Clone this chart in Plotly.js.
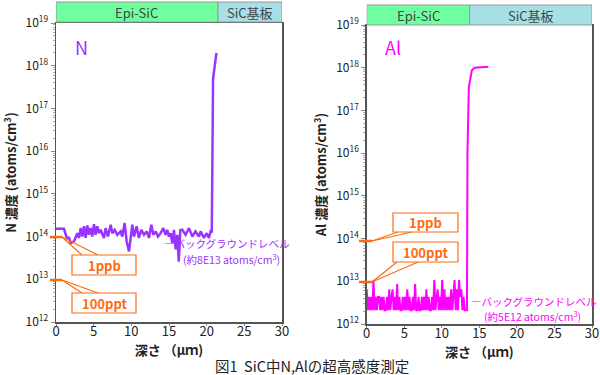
<!DOCTYPE html>
<html>
<head>
<meta charset="utf-8">
<script src="https://cdn.plot.ly/plotly-3.0.1.min.js"></script>
<style>html,body{margin:0;padding:0;background:#fff;}#chart{width:600px;height:375px;}</style>
</head>
<body>
<div id="chart"></div>
<script>
// ---- data ----
const nDepth = [0, 1.06, 1.41, 1.73, 1.95, 2.39, 2.83, 3.05, 3.27, 3.49, 3.72, 3.94, 4.16, 4.38, 4.60, 4.82, 5.04, 5.26, 5.48, 5.71, 5.93, 6.37, 6.59, 6.90, 7.26, 7.48, 7.79, 8.14, 8.58, 8.80, 9.11, 9.38, 9.69, 9.91, 10.13, 10.35, 10.70, 11.00, 11.33, 11.68, 12.03, 12.34, 12.65, 12.92, 13.23, 13.54, 13.89, 14.25, 14.55, 14.77, 15.00, 15.22, 15.44, 15.66, 15.88, 16.10, 16.30, 16.50, 16.76, 17.20, 17.65, 18.10, 18.50, 18.98, 19.20, 19.64, 20.00, 20.30, 20.52, 20.68, 20.75, 20.85, 21.30];
const nConc = [1.52e14, 1.52e14, 9.6e13, 9.3e13, 7.0e13, 7.7e13, 1.2e14, 9.3e13, 1.58e14, 1.0e14, 1.74e14, 9.3e13, 1.83e14, 1.1e14, 1.58e14, 1.0e14, 1.96e14, 1.1e14, 1.74e14, 1.2e14, 1.44e14, 9.3e13, 1.58e14, 1.0e14, 1.9e14, 1.2e14, 1.44e14, 1.1e14, 1.32e14, 1.0e14, 2.07e14, 7.7e13, 4.5e13, 1.1e14, 1.9e14, 1.0e14, 1.74e14, 9.3e13, 1.44e14, 1.1e14, 1.32e14, 9.3e13, 1.9e14, 1.1e14, 1.32e14, 1.0e14, 1.2e14, 1.58e14, 1.1e14, 1.44e14, 1.0e14, 1.2e14, 7.0e13, 1.44e14, 5.0e13, 1.1e14, 2.6e13, 1.4e14, 1.44e14, 1.1e14, 1.58e14, 1.0e14, 1.32e14, 1.0e14, 1.32e14, 9.3e13, 1.2e14, 9.3e13, 1.32e14, 1.25e14, 1.0e16, 5.0e17, 2.0e18];

const alDepth = [0.00, 0.15, 0.30, 0.45, 0.60, 0.75, 0.90, 1.05, 1.20, 1.35, 1.50, 1.65, 1.80, 1.95, 2.10, 2.25, 2.40, 2.55, 2.70, 2.85, 3.00, 3.15, 3.30, 3.45, 3.60, 3.75, 3.90, 4.05, 4.20, 4.35, 4.50, 4.65, 4.80, 4.95, 5.10, 5.25, 5.40, 5.55, 5.70, 5.85, 6.00, 6.15, 6.30, 6.45, 6.60, 6.75, 6.90, 7.05, 7.20, 7.35, 7.50, 7.65, 7.80, 7.95, 8.10, 8.25, 8.40, 8.55, 8.70, 8.85, 9.00, 9.15, 9.30, 9.45, 9.60, 9.75, 9.90, 10.05, 10.20, 10.35, 10.50, 10.65, 10.80, 10.95, 11.10, 11.25, 11.40, 11.55, 11.70, 11.85, 12.00, 12.15, 12.30, 12.45, 12.60, 12.75, 12.90, 13.05, 13.20, 13.35, 13.42, 13.50, 13.60, 13.85, 14.00, 14.40, 15.30, 16.20];
const alConc = [6.5e12, 2.1e12, 4.3e12, 2.1e12, 4.3e12, 2.1e12, 1.07e13, 2.1e12, 4.3e12, 2.1e12, 4.3e12, 4.3e12, 2.1e12, 4.3e12, 2.1e12, 4.3e12, 2.1e12, 2.1e12, 4.3e12, 2.1e12, 6.5e12, 2.1e12, 4.3e12, 6.5e12, 2.1e12, 4.3e12, 2.1e12, 8.6e12, 2.1e12, 4.3e12, 2.1e12, 2.1e12, 4.3e12, 2.1e12, 4.3e12, 2.1e12, 6.5e12, 2.1e12, 4.3e12, 2.1e12, 2.1e12, 4.3e12, 2.1e12, 8.6e12, 2.1e12, 2.1e12, 4.3e12, 2.1e12, 2.1e12, 4.3e12, 2.1e12, 4.3e12, 2.1e12, 6.5e12, 2.1e12, 4.3e12, 2.1e12, 2.1e12, 4.3e12, 2.1e12, 1.07e13, 2.1e12, 4.3e12, 6.5e12, 2.1e12, 4.3e12, 2.1e12, 1.07e13, 2.1e12, 6.5e12, 2.1e12, 4.3e12, 2.1e12, 4.3e12, 2.1e12, 6.5e12, 2.1e12, 4.3e12, 1.07e13, 2.1e12, 6.5e12, 2.1e12, 1.07e13, 4.3e12, 6.5e12, 2.1e12, 4.3e12, 2.1e12, 2.1e12, 2.1e12, 1.0e16, 1.5e17, 3.5e17, 6.2e17, 8.7e17, 1.0e18, 1.03e18, 1.05e18];

const yTickVals = [1e12, 1e13, 1e14, 1e15, 1e16, 1e17, 1e18, 1e19];
const yTickText = ['10<sup>12</sup>', '10<sup>13</sup>', '10<sup>14</sup>', '10<sup>15</sup>', '10<sup>16</sup>', '10<sup>17</sup>', '10<sup>18</sup>', '10<sup>19</sup>'];
const xTickVals = [0, 5, 10, 15, 20, 25, 30];

const layerNames = ['Epi-SiC', 'SiC基板'];
const nLayerBounds = [0, 21.5, 30];
const alLayerBounds = [0, 13.7, 30];

// ---- styling ----
const FONT = '"Noto Sans CJK JP", "Noto Sans", sans-serif';
const nColor = '#9933FF';
const alColor = '#FF00FF';
const orange = '#FF6A10';
const layerFill = ['#6FFFA0', '#A6E0E6'];

const minorVals = [];
for (let e = 12; e < 19; e++) for (let m = 2; m <= 9; m++) minorVals.push(m * Math.pow(10, e));

const px = x => x / 600;
const py = y => 1 - y / 375;

function yAxis(domain, anchor) {
  return {
    type: 'log', range: [12, 19], domain: domain, anchor: anchor,
    tickvals: yTickVals, ticktext: yTickText,
    ticks: 'outside', ticklen: 4, tickcolor: '#888',
    minor: {tickvals: minorVals, ticks: 'outside', ticklen: 2, tickcolor: '#aaa'},
    showline: true, mirror: true, linecolor: '#555', linewidth: 1.5,
    showgrid: false, zeroline: false,
    tickfont: {family: FONT, size: 12, color: '#222'}
  };
}
function xAxis(domain, anchor) {
  return {
    range: [0, 30], domain: domain, anchor: anchor,
    tickvals: xTickVals, ticks: 'outside', ticklen: 2, tickcolor: '#888',
    ticklabelstandoff: -5,
    showline: true, mirror: true, linecolor: '#555', linewidth: 1.5,
    showgrid: false, zeroline: false,
    tickfont: {family: FONT, size: 13, color: '#222'},
    title: {text: '<b>深さ （μｍ)</b>', font: {family: FONT, size: 13, color: '#222'}, standoff: 0}
  };
}

const traces = [
  {x: nDepth, y: nConc, xaxis: 'x', yaxis: 'y', mode: 'lines', line: {color: nColor, width: 2.5}, hoverinfo: 'skip'},
  {x: alDepth, y: alConc, xaxis: 'x2', yaxis: 'y2', mode: 'lines', line: {color: alColor, width: 2}, hoverinfo: 'skip'}
];

const shapes = [];
const annotations = [];

function layerBar(xref, bounds, y0, y1) {
  for (let i = 0; i < layerNames.length; i++) {
    shapes.push({type: 'rect', xref: xref, yref: 'paper', x0: bounds[i], x1: bounds[i + 1], y0: py(y1), y1: py(y0),
      fillcolor: layerFill[i], line: {color: '#999', width: 1}, layer: 'above'});
    annotations.push({xref: xref, yref: 'paper', x: (bounds[i] + bounds[i + 1]) / 2, y: py((y0 + y1) / 2),
      text: layerNames[i], showarrow: false, xanchor: 'center', yanchor: 'middle',
      font: {family: FONT, size: 13, color: '#444'}});
  }
}
layerBar('x', nLayerBounds, 2, 22);
layerBar('x2', alLayerBounds, 5, 25);

function line(x0, y0, x1, y1, w) {
  shapes.push({type: 'line', xref: 'paper', yref: 'paper', x0: px(x0), y0: py(y0), x1: px(x1), y1: py(y1),
    line: {color: orange, width: w || 1.2}, layer: 'above'});
}
function box(x0, y0, x1, y1, label) {
  shapes.push({type: 'rect', xref: 'paper', yref: 'paper', x0: px(x0), y0: py(y1), x1: px(x1), y1: py(y0),
    fillcolor: '#fff', line: {color: orange, width: 1.2}, layer: 'above'});
  annotations.push({xref: 'paper', yref: 'paper', x: px((x0 + x1) / 2), y: py((y0 + y1) / 2), text: '<b>' + label + '</b>',
    showarrow: false, xanchor: 'center', yanchor: 'middle', font: {family: FONT, size: 13, color: orange}});
}
// left callouts
line(50, 237, 62, 237, 2.5); line(62, 237, 98, 255); line(62, 237, 82, 255);
box(72, 255, 136, 275, '1ppb');
line(50, 280, 62, 280, 2.5); line(62, 280, 98, 293); line(62, 280, 82, 293);
box(72, 293, 136, 313, '100ppt');
// right callouts
line(359, 241, 372, 241, 2.5); line(372, 241, 398, 232); line(372, 241, 412, 232);
box(393, 213, 458, 232, '1ppb');
line(359, 282, 372, 282, 2.5); line(372, 282, 397, 262); line(372, 282, 418, 262);
box(393, 242, 458, 262, '100ppt');

function note(x, y, text, color, size, anchor) {
  annotations.push({xref: 'paper', yref: 'paper', x: px(x), y: py(y), text: text, showarrow: false,
    xanchor: anchor || 'left', yanchor: 'middle', font: {family: FONT, size: size, color: color}});
}
note(73, 47, 'N', nColor, 18);
note(383, 47, 'Al', alColor, 18);
note(162, 243, '―バックグラウンドレベル', nColor, 10.5);
note(181, 259, '(約8E13 atoms/cm<sup>3</sup>)', nColor, 10.5);
note(469, 301, '―バックグラウンドレベル', alColor, 10.5);
note(482, 316, '(約5E12 atoms/cm<sup>3</sup>)', alColor, 10.5);
note(312, 365, '図1  SiC中N,Alの超高感度測定', '#222', 14.5, 'center');

const yl = yAxis([py(322), py(23)], 'x');
yl.title = {text: '<b>N 濃度 (atoms/cm<sup>3</sup>)</b>', font: {family: FONT, size: 13, color: '#222'}, standoff: 6};
const yr = yAxis([py(324), py(25)], 'x2');
yr.title = {text: '<b>Al 濃度 (atoms/cm<sup>3</sup>)</b>', font: {family: FONT, size: 13, color: '#222'}, standoff: 6};

const layout = {
  width: 600, height: 375,
  margin: {l: 0, r: 0, t: 0, b: 0},
  paper_bgcolor: '#fff', plot_bgcolor: '#fff',
  showlegend: false,
  font: {family: FONT},
  xaxis: xAxis([px(56), px(282)], 'y'),
  yaxis: yl,
  xaxis2: xAxis([px(366.7), px(592)], 'y2'),
  yaxis2: yr,
  shapes: shapes,
  annotations: annotations
};

Plotly.newPlot('chart', traces, layout, {staticPlot: true, displayModeBar: false});
</script>
</body>
</html>
